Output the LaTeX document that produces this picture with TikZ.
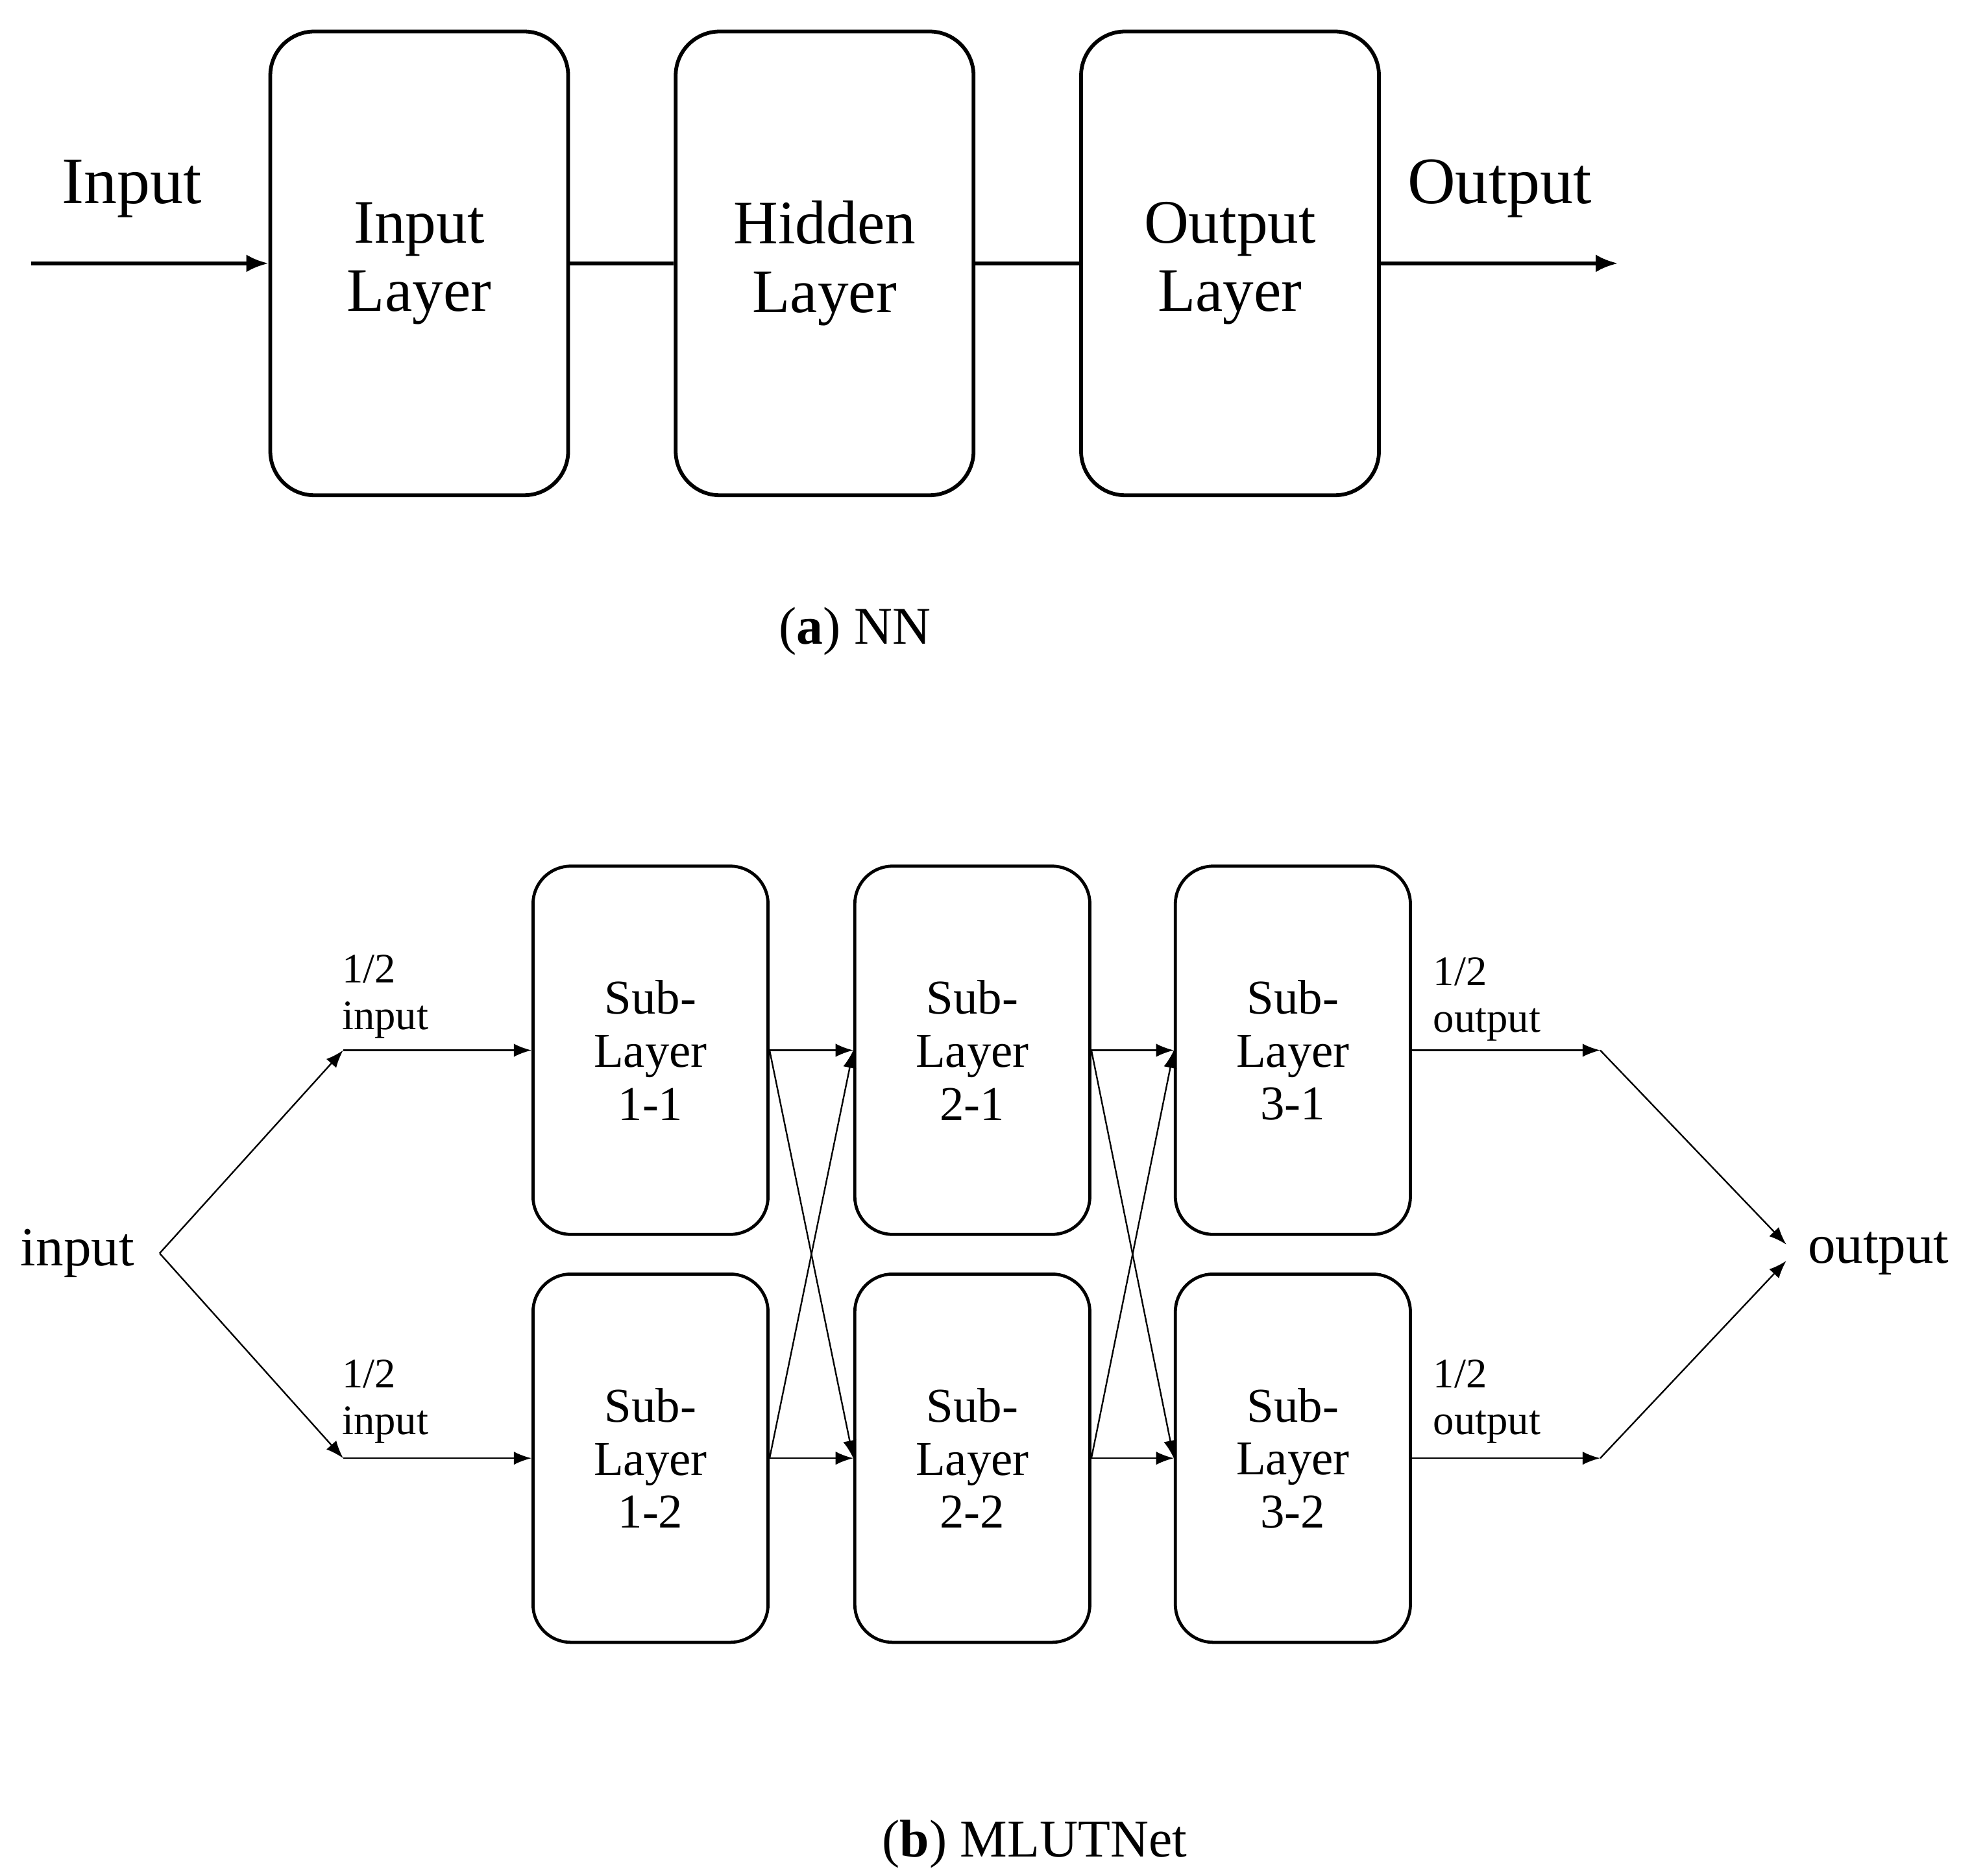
\documentclass[tikz,border=0pt]{standalone}
\usepackage{fontspec}
\setmainfont{Liberation Serif}
\usetikzlibrary{arrows.meta}
\begin{document}
\begin{tikzpicture}[x=0.02cm,y=-0.02cm,
  big/.style={draw,line width=1.7pt,rounded corners=0.7cm,minimum width=4.74cm,minimum height=7.38cm,
    align=center,font=\fontsize{28}{31}\selectfont},
  sub/.style={draw,line width=1.4pt,rounded corners=0.6cm,minimum width=3.74cm,minimum height=5.86cm,
    align=center,font=\fontsize{22}{24}\selectfont},
  thick arrow/.style={line width=1.7pt,-{Latex[length=10pt,width=8pt]}},
  thin arrow/.style={line width=0.7pt,-{Latex[length=8pt,width=6pt]}},
  lbl/.style={font=\fontsize{30}{34}\selectfont},
  small/.style={font=\fontsize{19}{21}\selectfont,align=left,anchor=west},
  captext/.style={font=\fontsize{24}{28}\selectfont}]
\useasboundingbox (0,0) rectangle (1560,1492);
% (a) NN
\node[big] (il) at (333.5,209.5) {Input\\Layer};
\node[big] (hl) at (656,209.5) {Hidden\\Layer};
\node[big] (ol) at (978.5,209.5) {Output\\Layer};
\coordinate (ain) at (25,209.5);
\coordinate (aout) at (1287,209.5);
\draw[thick arrow] (ain) -- (il.west);
\draw[line width=1.7pt] (il.east) -- (hl.west);
\draw[line width=1.7pt] (hl.east) -- (ol.west);
\draw[thick arrow] (ol.east) -- (aout);
\node[lbl] (tin) at (105,150) {Input};
\node[lbl] (tout) at (1193,150) {Output};
\node[captext] (capa) at (680,502) {(\textbf{a}) NN};
% (b) MLUTNet
\node[sub] (s11) at (517.5,835.5) {Sub-\\Layer\\1-1};
\node[sub] (s12) at (517.5,1160) {Sub-\\Layer\\1-2};
\node[sub] (s21) at (773.5,835.5) {Sub-\\Layer\\2-1};
\node[sub] (s22) at (773.5,1160) {Sub-\\Layer\\2-2};
\node[sub] (s31) at (1028.5,835.5) {Sub-\\Layer\\3-1};
\node[sub] (s32) at (1028.5,1160) {Sub-\\Layer\\3-2};
\node[font=\fontsize{25}{28}\selectfont,anchor=east] (bin) at (113,997) {input};
\node[font=\fontsize{25}{28}\selectfont,anchor=west] (bout) at (1432,997) {output};
\coordinate (sp) at (127,997);
\coordinate (i1) at (273,835.5);
\coordinate (i2) at (273,1160);
\coordinate (o1) at (1273,835.5);
\coordinate (o2) at (1273,1160);
\coordinate (m1) at (1421,990);
\coordinate (m2) at (1421,1003);
\draw[thin arrow] (sp) -- (i1);
\draw[thin arrow] (sp) -- (i2);
\draw[thin arrow] (i1) -- (s11.west);
\draw[thin arrow] (i2) -- (s12.west);
\foreach \a/\b in {1/2,2/3}{
  \draw[thin arrow] (s\a1.east) -- (s\b1.west);
  \draw[thin arrow] (s\a1.east) -- (s\b2.west);
  \draw[thin arrow] (s\a2.east) -- (s\b1.west);
  \draw[thin arrow] (s\a2.east) -- (s\b2.west);
}
\draw[thin arrow] (s31.east) -- (o1);
\draw[thin arrow] (s32.east) -- (o2);
\draw[thin arrow] (o1) -- (m1);
\draw[thin arrow] (o2) -- (m2);
\node[small] (h1) at (266,793) {1/2\\input};
\node[small] (h2) at (266,1115) {1/2\\input};
\node[small] (h3) at (1134,795) {1/2\\output};
\node[small] (h4) at (1134,1115) {1/2\\output};
\node[captext] (capb) at (823,1467) {(\textbf{b}) MLUTNet};
\end{tikzpicture}
\end{document}
